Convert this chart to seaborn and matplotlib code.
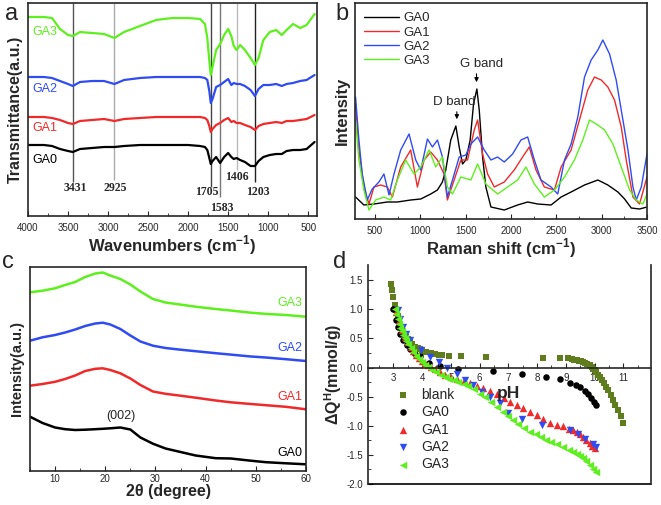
import matplotlib
matplotlib.use("Agg")
import matplotlib.pyplot as plt
import seaborn as sns
import numpy as np
import pandas as pd

# ---------------- data ----------------
# (a) FTIR, stacked traces (arbitrary units)
IR_WN = [4000, 3800, 3700, 3600, 3500, 3440, 3350, 3200, 3050, 2920, 2800, 2600, 2400, 2200,
         2000, 1850, 1790, 1760, 1735, 1717, 1695, 1650, 1600, 1550, 1500, 1460, 1430, 1395,
         1350, 1290, 1220, 1165, 1120, 1060, 980, 900, 830, 770, 690, 600, 520, 420]
IR_GA3 = [199, 199, 198, 187, 181, 180, 184, 183, 182, 178, 184, 190, 196, 198,
          198, 197, 192, 178, 155, 141, 149, 166, 172, 181, 187, 180, 170, 166,
          171, 166, 158, 151, 158, 176, 184, 186, 181, 186, 192, 188, 191, 202]
IR_GA2 = [139, 139, 138, 135, 132, 130, 134, 135, 135, 132, 136, 138, 139, 139,
          139, 139, 138, 136, 125, 113, 117, 129, 131, 134, 137, 131, 133, 132,
          132, 130, 126, 120, 127, 131, 131, 132, 130, 132, 133, 135, 136, 141]
IR_GA1 = [99, 99, 98, 96, 93, 92, 95, 96, 97, 95, 97, 98, 99, 99,
          99, 99, 98, 96, 90, 84, 87, 91, 93, 96, 98, 94, 95, 93,
          93, 91, 89, 86, 90, 92, 93, 94, 93, 95, 95, 96, 97, 101]
IR_GA0 = [71, 71, 70, 67, 65, 64, 67, 68, 69, 69, 70, 71, 71, 71,
          71, 70, 69, 66, 58, 52, 55, 59, 53, 59, 63, 59, 57, 58,
          56, 54, 50, 50, 55, 59, 61, 62, 62, 65, 66, 66, 67, 74]
IR_PEAK_POS = [3440, 2920, 1717, 1600, 1392, 1162]
IR_PEAK_LABELS = ["3431", "2925", "1705", "1583", "1406", "1203"]

# (b) Raman
RA_X_GA0 = [286, 378, 489, 636, 747, 894, 1005, 1115, 1189, 1244, 1281, 1336, 1392, 1429, 1466,
            1502, 1550, 1587, 1624, 1650, 1687, 1723, 1779, 1926, 2073, 2184, 2295, 2442, 2553,
            2663, 2811, 2958, 3068, 3179, 3253, 3326, 3418, 3500]
RA_Y_GA0 = [22, 14, 15, 17, 17, 19, 20, 25, 29, 37, 49, 79, 93, 72, 55,
            59, 79, 115, 130, 109, 62, 32, 12, 9, 14, 17, 15, 14, 22,
            27, 34, 39, 34, 27, 20, 11, 10, 12]
RA_X_GA1 = [286, 323, 378, 434, 489, 563, 636, 692, 784, 894, 968, 1042, 1115, 1189, 1262, 1299,
            1373, 1447, 1521, 1595, 1632, 1687, 1742, 1816, 1926, 2036, 2128, 2202, 2276, 2368,
            2479, 2553, 2663, 2755, 2847, 2921, 2995, 3068, 3142, 3216, 3271, 3345, 3418, 3500]
RA_Y_GA1 = [115, 69, 32, 15, 32, 34, 32, 22, 52, 69, 32, 59, 67, 59, 45, 19,
            39, 59, 59, 89, 99, 65, 45, 32, 37, 49, 62, 72, 49, 32,
            29, 52, 69, 99, 129, 142, 139, 132, 119, 92, 59, 22, 15, 42]
RA_X_GA2 = [286, 323, 360, 415, 470, 544, 599, 655, 710, 784, 876, 950, 1005, 1079, 1134, 1189,
            1244, 1299, 1355, 1429, 1502, 1558, 1632, 1705, 1779, 1852, 1926, 2018, 2110, 2184,
            2258, 2331, 2442, 2516, 2590, 2663, 2737, 2811, 2884, 2958, 3013, 3087, 3160, 3216,
            3290, 3345, 3382, 3437, 3500]
RA_Y_GA2 = [122, 79, 45, 19, 30, 37, 45, 24, 45, 69, 85, 59, 49, 80, 72, 79,
            62, 22, 39, 62, 64, 75, 82, 69, 59, 62, 57, 65, 79, 82,
            59, 39, 32, 25, 59, 75, 102, 142, 159, 169, 179, 165, 139, 109,
            69, 32, 19, 32, 65]
RA_X_GA3 = [286, 323, 378, 434, 507, 599, 673, 747, 839, 931, 1005, 1097, 1170, 1244, 1299, 1355,
            1447, 1558, 1632, 1723, 1852, 1963, 2073, 2165, 2258, 2368, 2479, 2590, 2700, 2792,
            2866, 2958, 3032, 3124, 3216, 3308, 3382, 3455, 3500]
RA_Y_GA3 = [99, 59, 29, 9, 19, 22, 19, 39, 59, 45, 52, 69, 52, 62, 32, 25,
            42, 39, 55, 35, 25, 32, 39, 52, 35, 22, 29, 42, 59, 79,
            99, 94, 89, 75, 52, 29, 19, 15, 25]

# (c) XRD
XRD_2T = [5, 7.5, 10, 12, 14, 16, 18, 19.5, 21, 23, 25, 27, 29.5, 32, 35, 38, 42, 45, 49, 52, 56, 60]
XRD_GA3 = [178.7, 180.3, 182.7, 186, 189, 194, 197.5, 198.5, 195.5, 192, 186.5, 179.5, 172, 168.5,
           166.4, 164.3, 162, 160.5, 158.3, 157.1, 156, 154.3]
XRD_GA2 = [130.3, 133.7, 136, 138.5, 141.5, 145, 147.5, 148.3, 146.5, 142, 135.5, 129.5, 125.3, 123,
           121.3, 119.8, 117.8, 116.4, 114.5, 113.5, 111.8, 110]
XRD_GA1 = [85.3, 87, 89.2, 92, 95.5, 100, 102.2, 102.7, 101, 97.7, 92.5, 86, 79.5, 77.2,
           75.3, 73.3, 70.5, 68.7, 67, 65.8, 64.2, 61.7]
XRD_GA0 = [54.3, 48, 43.5, 41.8, 41, 41.3, 41.8, 42.2, 42.7, 43.5, 41.5, 33.5, 27.3, 22.5,
           19, 15.5, 12.8, 12.5, 10.3, 8.8, 7.7, 6.7]

# (d) potentiometric titration
BLANK_PH = [2.91, 2.95, 3.0, 3.05, 3.1, 3.15, 3.2, 3.25, 3.3, 3.35, 3.4, 3.45, 3.5, 3.58, 3.65,
            3.75, 3.85, 3.92, 4.0, 4.15, 4.3, 4.44, 4.6, 4.68, 4.94, 5.34, 6.24, 8.21, 8.79,
            9.08, 9.2, 9.3, 9.37, 9.45, 9.52, 9.6, 9.68, 9.75, 9.83, 9.9, 9.95, 10.0, 10.06,
            10.12, 10.18, 10.25, 10.32, 10.41, 10.48, 10.56, 10.64, 10.72, 10.81, 10.9, 10.99]
BLANK_Q = [1.44, 1.33, 1.21, 1.08, 0.98, 0.89, 0.81, 0.74, 0.67, 0.61, 0.57, 0.53, 0.49, 0.44, 0.40,
           0.355, 0.33, 0.31, 0.29, 0.27, 0.255, 0.24, 0.22, 0.21, 0.2, 0.195, 0.18, 0.165, 0.165,
           0.155, 0.145, 0.135, 0.126, 0.115, 0.105, 0.095, 0.08, 0.06, 0.04, 0.01, -0.02, -0.046, -0.08,
           -0.12, -0.16, -0.21, -0.26, -0.33, -0.39, -0.47, -0.56, -0.64, -0.73, -0.84, -0.95]
GA0_PH = [3.0, 3.09, 3.17, 3.25, 3.35, 3.46, 3.58, 3.75, 3.92, 4.24, 4.62, 5.26, 6.47, 7.49, 8.3,
          8.79, 9.13, 9.34, 9.5, 9.65, 9.77, 9.88, 9.98, 10.06]
GA0_Q = [1.01, 0.81, 0.70, 0.58, 0.48, 0.38, 0.31, 0.24, 0.19, 0.07, 0.02, -0.02, -0.06, -0.11, -0.16,
         -0.2, -0.26, -0.3, -0.34, -0.40, -0.46, -0.52, -0.59, -0.65]
GA1_PH = [3.1, 3.2, 3.3, 3.4, 3.5, 3.6, 3.7, 3.8, 3.9, 4.0, 4.1, 4.2, 4.3, 4.45, 4.62, 4.8, 5.0, 5.2,
          5.45, 5.67, 5.9, 6.13, 6.35, 6.6, 6.85, 7.06, 7.3, 7.52, 7.75, 7.98, 8.2, 8.44, 8.68, 8.9,
          9.1, 9.25, 9.37, 9.5, 9.6, 9.7, 9.83, 9.92, 10.0]
GA1_Q = [0.95, 0.8, 0.65, 0.53, 0.43, 0.35, 0.28, 0.22, 0.17, 0.12, 0.08, 0.04, 0.01, -0.03, -0.07,
         -0.12, -0.16, -0.19, -0.23, -0.27, -0.31, -0.36, -0.41, -0.46, -0.52, -0.59, -0.64, -0.70,
         -0.76, -0.82, -0.88, -0.95, -0.98, -1.01, -1.05, -1.08, -1.1, -1.15, -1.19, -1.24, -1.3,
         -1.35, -1.39]
GA2_PH = [3.17, 3.25, 3.35, 3.44, 3.58, 3.95, 4.27, 4.6, 4.88, 5.2, 5.5, 5.76, 6.08, 6.37, 6.7, 7.0,
          7.47, 8.16, 9.15, 9.43, 9.66, 9.95, 10.06]
GA2_Q = [0.98, 0.84, 0.70, 0.58, 0.48, 0.30, 0.18, 0.10, 0.0, -0.11, -0.21, -0.3, -0.42, -0.5, -0.61,
         -0.78, -0.89, -0.99, -1.07, -1.15, -1.22, -1.31, -1.37]
GA3_PH = [3.05, 3.1, 3.15, 3.2, 3.25, 3.3, 3.35, 3.4, 3.45, 3.5, 3.6, 3.7, 3.8, 3.9, 4.0, 4.1, 4.2,
          4.35, 4.5, 4.65, 4.8, 4.95, 5.1, 5.25, 5.45, 5.6, 5.8, 6.02, 6.2, 6.4, 6.6, 6.8, 7.0, 7.17,
          7.35, 7.55, 7.75, 7.95, 8.15, 8.32, 8.5, 8.7, 8.9, 9.1, 9.25, 9.37, 9.48, 9.6, 9.7, 9.83,
          9.95, 10.06]
GA3_Q = [1.0, 0.92, 0.83, 0.75, 0.68, 0.62, 0.56, 0.5, 0.45, 0.41, 0.33, 0.26, 0.2, 0.14, 0.09, 0.05,
         0.01, -0.04, -0.08, -0.12, -0.16, -0.19, -0.22, -0.25, -0.29, -0.32, -0.37, -0.45, -0.51,
         -0.59, -0.68, -0.76, -0.84, -0.9, -0.97, -1.03, -1.1, -1.15, -1.2, -1.24, -1.28, -1.32,
         -1.36, -1.41, -1.45, -1.48, -1.52, -1.56, -1.61, -1.68, -1.74, -1.79]

BLACK = "#000000"
RED = "#f02a2a"
BLUE = "#2f4cf2"
GREEN = "#5ef01e"
OLIVE = "#5f7d1c"

sns.set_style("ticks")
plt.rcParams["font.family"] = ["Liberation Sans", "DejaVu Sans"]
plt.rcParams["mathtext.fontset"] = "custom"
plt.rcParams["mathtext.rm"] = "Liberation Sans"
plt.rcParams["mathtext.bf"] = "Liberation Sans:bold"
plt.rcParams["axes.linewidth"] = 1.2

fig = plt.figure(figsize=(6.61, 5.05), dpi=100)
W, H = 661, 505


def box(l, t, r, b):
    return [l / W, 1 - b / H, (r - l) / W, (b - t) / H]


def spectrum_ticks(ax, pad=5):
    ax.tick_params(axis="x", which="both", direction="in", top=False, labelsize=7, pad=pad)
    ax.tick_params(axis="x", which="major", length=3.5)
    ax.tick_params(axis="x", which="minor", length=2)
    ax.set_yticks([])


# ---------- (a) FTIR ----------
ax_a = fig.add_axes(box(28, 3, 317, 216))
for y, c in [(IR_GA0, BLACK), (IR_GA1, RED), (IR_GA2, BLUE), (IR_GA3, GREEN)]:
    sns.lineplot(x=IR_WN, y=y, color=c, lw=1.6, ax=ax_a, sort=False, estimator=None)
line_colors = ["#555555", "#aaaaaa", "#444444", "#777777", "#bbbbbb", "#222222"]
line_bottoms = [34, 36, 29, 19, 46, 34]
for pos, c, yb in zip(IR_PEAK_POS, line_colors, line_bottoms):
    ax_a.vlines(pos, yb, 213, color=c, lw=1.0, zorder=1)
label_xy = [(3412, 28), (2912, 28), (1762, 24), (1575, 8), (1387, 39), (1125, 24)]
for lab, (lx, ly) in zip(IR_PEAK_LABELS, label_xy):
    ax_a.text(lx, ly, lab, family="Liberation Serif", weight="bold", fontsize=8.5,
              ha="center", va="center")
for lab, ly, c in [("GA3", 184, GREEN), ("GA2", 127, BLUE), ("GA1", 88, RED), ("GA0", 56, BLACK)]:
    ax_a.text(3950, ly, lab, color=c, fontsize=9, ha="left", va="center")
ax_a.set_xlim(4000, 390)
ax_a.set_ylim(0, 213)
ax_a.set_xticks([4000, 3500, 3000, 2500, 2000, 1500, 1000, 500])
ax_a.set_xticks(np.arange(3750, 400, -500), minor=True)
spectrum_ticks(ax_a)
ax_a.set_xlabel(r"Wavenumbers (cm$^{\mathbf{-1}}$)", fontsize=12, weight="bold", labelpad=0)
ax_a.set_ylabel("Transmittance(a.u.)", fontsize=11.5, weight="bold", labelpad=4)

# ---------- (b) Raman ----------
ax_b = fig.add_axes(box(355, 3, 647, 219))
for xs, ys, c, lab in [(RA_X_GA0, RA_Y_GA0, BLACK, "GA0"), (RA_X_GA1, RA_Y_GA1, RED, "GA1"),
                       (RA_X_GA2, RA_Y_GA2, BLUE, "GA2"), (RA_X_GA3, RA_Y_GA3, GREEN, "GA3")]:
    sns.lineplot(x=xs, y=ys, color=c, lw=1.0, ax=ax_b, label=lab, estimator=None)
ax_b.annotate("", xy=(1403, 97), xytext=(1403, 110),
              arrowprops=dict(arrowstyle="-|>", color="k", lw=0.8, mutation_scale=6))
ax_b.text(1373, 117, "D band", fontsize=9.5, ha="center", va="center")
ax_b.annotate("", xy=(1620, 134), xytext=(1620, 148),
              arrowprops=dict(arrowstyle="-|>", color="k", lw=0.8, mutation_scale=6))
ax_b.text(1675, 155, "G band", fontsize=9.5, ha="center", va="center")
ax_b.set_xlim(280, 3500)
ax_b.set_ylim(0, 216)
ax_b.set_xticks(np.arange(500, 3501, 500))
ax_b.set_xticks(np.arange(750, 3500, 500), minor=True)
spectrum_ticks(ax_b)
ax_b.set_xlabel(r"Raman shift (cm$^{\mathbf{-1}}$)", fontsize=12, weight="bold", labelpad=0)
ax_b.set_ylabel("Intensity", fontsize=12, weight="bold", labelpad=4)
ax_b.legend(loc="upper left", frameon=False, fontsize=9.5, handlelength=2.6,
            handletextpad=0.4, labelspacing=0.15, borderaxespad=0.3)

# ---------- (c) XRD ----------
ax_c = fig.add_axes(box(30, 267, 306, 471))
for y, c in [(XRD_GA0, BLACK), (XRD_GA1, RED), (XRD_GA2, BLUE), (XRD_GA3, GREEN)]:
    sns.lineplot(x=XRD_2T, y=y, color=c, lw=1.8, ax=ax_c, estimator=None)
for lab, ly, c in [("GA3", 167.7, GREEN), ("GA2", 122.7, BLUE), ("GA1", 74.3, RED), ("GA0", 17.7, BLACK)]:
    ax_c.text(59.3, ly, lab, color=c, fontsize=9, ha="right", va="center")
ax_c.text(23.2, 55, "(002)", fontsize=9, ha="center", va="center")
ax_c.set_xlim(5, 60)
ax_c.set_ylim(0, 204)
ax_c.set_xticks(np.arange(10, 61, 10))
ax_c.set_xticks(np.arange(5, 60, 10), minor=True)
spectrum_ticks(ax_c, pad=2.5)
ax_c.set_xlabel("2\u03b8 (degree)", fontsize=11.5, weight="bold", labelpad=0)
ax_c.set_ylabel("Intensity(a.u.)", fontsize=10.5, weight="bold", labelpad=4)

# ---------- (d) titration ----------
ax_d = fig.add_axes(box(368, 265, 651, 484))
series = [(BLANK_PH, BLANK_Q, OLIVE, "s", 22, "blank"),
          (GA0_PH, GA0_Q, BLACK, "o", 22, "GA0"),
          (GA1_PH, GA1_Q, RED, "^", 28, "GA1"),
          (GA2_PH, GA2_Q, BLUE, "v", 28, "GA2"),
          (GA3_PH, GA3_Q, GREEN, "<", 28, "GA3")]
for xs, ys, c, m, s, lab in series:
    sns.scatterplot(x=xs, y=ys, color=c, marker=m, s=s, linewidth=0, ax=ax_d, label=lab)
ax_d.set_xlim(2.12, 11.96)
ax_d.set_ylim(-2.0, 1.76)
ax_d.spines["top"].set_visible(False)
ax_d.spines["bottom"].set_position(("data", 0))
ax_d.plot([0, 1], [0, 0], transform=ax_d.transAxes, color="k", lw=1.2, clip_on=False)
ax_d.set_xticks(np.arange(3, 12, 1))
ax_d.set_xticks(np.arange(2.5, 12, 0.5), minor=True)
ax_d.set_yticks(np.arange(-2.0, 1.6, 0.5))
ax_d.set_yticks(np.arange(-1.75, 1.6, 0.5), minor=True)
ax_d.yaxis.set_major_formatter(matplotlib.ticker.FormatStrFormatter("%.1f"))
ax_d.tick_params(axis="both", which="both", direction="in", labelsize=7)
ax_d.tick_params(axis="both", which="major", length=3.5)
ax_d.tick_params(axis="both", which="minor", length=2)
ax_d.tick_params(axis="x", pad=4)
ax_d.text(6.99, -0.45, "pH", fontsize=12.5, weight="bold", ha="center", va="center")
ax_d.set_xlabel("")
ax_d.set_ylabel(r"$\mathbf{\Delta Q^{H}}$(mmol/g)", fontsize=11.5, weight="bold", labelpad=2)
ax_d.legend(loc="lower left", bbox_to_anchor=(0.03, 0.0), frameon=False, fontsize=10,
            handletextpad=0.3, labelspacing=0.25, markerscale=1.0)

# panel letters
for lab, x, y in [("a", 12, 14), ("b", 342, 14), ("c", 8, 262), ("d", 340, 262)]:
    fig.text(x / W, 1 - y / H, lab, fontsize=17, ha="center", va="center")

fig.savefig("out.png", dpi=100)
